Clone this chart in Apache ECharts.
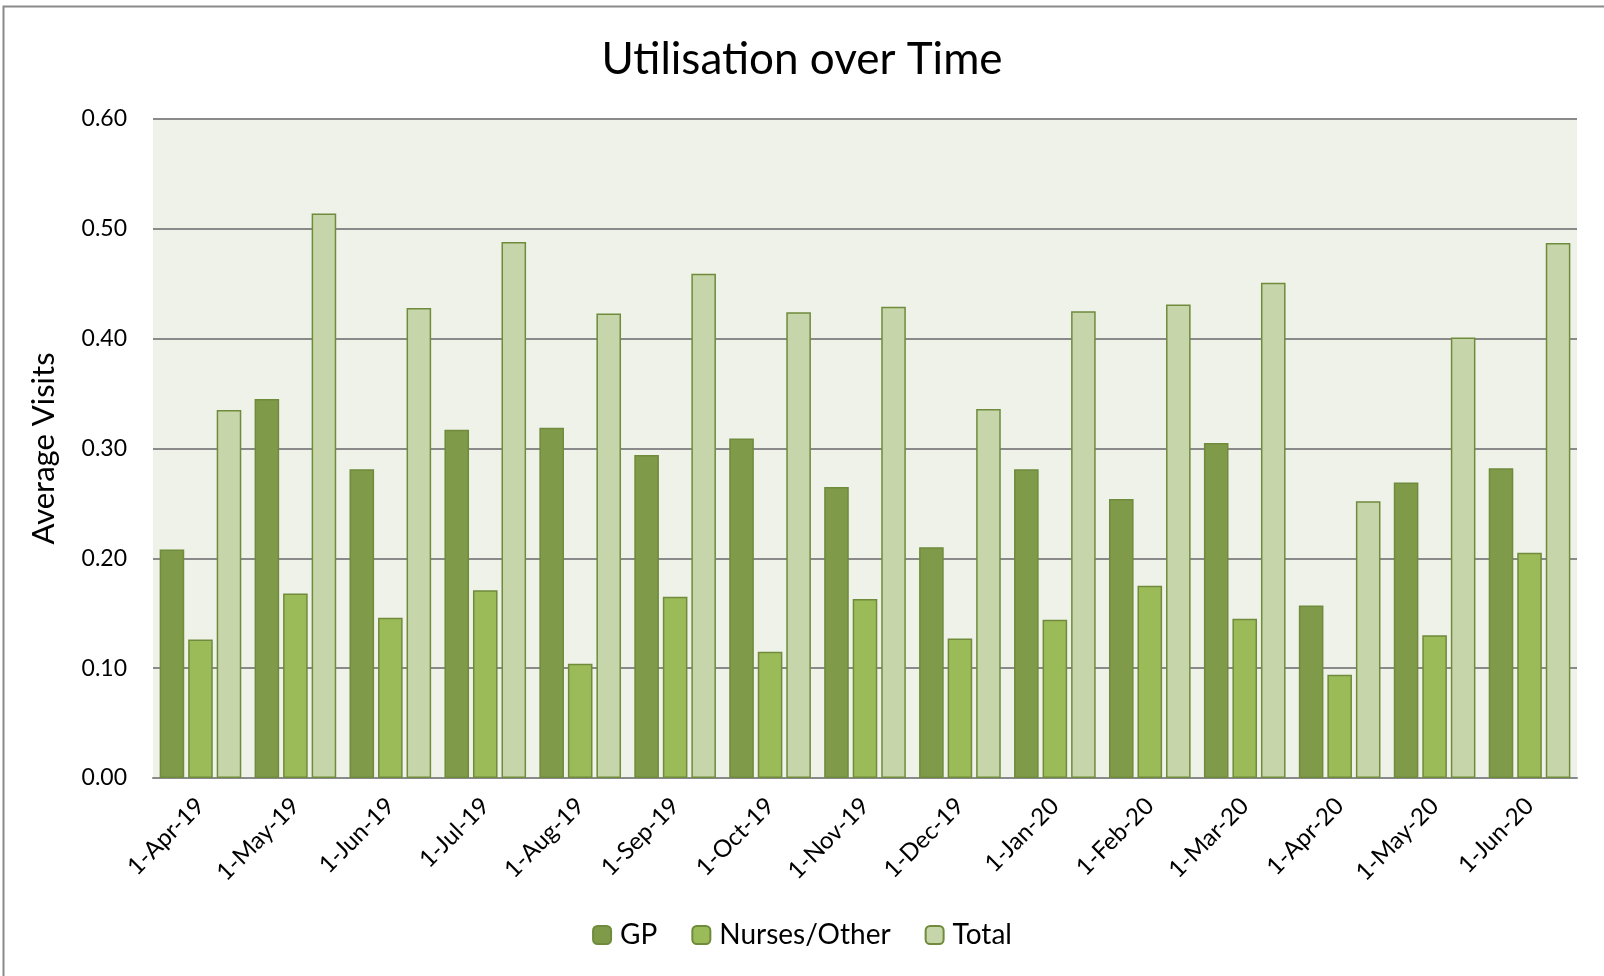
<!DOCTYPE html>
<html lang="en">
<head>
    <meta charset="UTF-8">
    <title>Utilisation over Time</title>
    <style>
        html, body { margin: 0; padding: 0; background: #fff; }
    </style>
</head>
<body>
<div id="main" style="width: 1604px;height: 976px;"></div>
<script src="https://cdn.jsdelivr.net/npm/echarts@6/dist/echarts.min.js"></script>
<script type="text/javascript">
    // months on the x axis
    var months = ['1-Apr-19', '1-May-19', '1-Jun-19', '1-Jul-19', '1-Aug-19', '1-Sep-19', '1-Oct-19',
        '1-Nov-19', '1-Dec-19', '1-Jan-20', '1-Feb-20', '1-Mar-20', '1-Apr-20', '1-May-20', '1-Jun-20'];
    var gp     = [0.208, 0.345, 0.281, 0.317, 0.319, 0.294, 0.309, 0.265, 0.210, 0.281, 0.254, 0.305, 0.157, 0.269, 0.282];
    var nurses = [0.126, 0.168, 0.146, 0.171, 0.104, 0.165, 0.115, 0.163, 0.127, 0.144, 0.175, 0.145, 0.094, 0.130, 0.205];
    var total  = [0.335, 0.514, 0.428, 0.488, 0.423, 0.459, 0.424, 0.429, 0.336, 0.425, 0.431, 0.451, 0.252, 0.401, 0.487];

    var font = 'Lato, "Noto Sans", sans-serif';
    var edge = '#6f8b3b';

    let myChart = echarts.init(document.getElementById('main'));
    const option = {
        backgroundColor: '#fff',
        animation: false,
        textStyle: {fontFamily: font, color: '#000'},
        title: {
            text: 'Utilisation over Time',
            left: 'center',
            top: 33,
            textStyle: {fontSize: 44, fontWeight: 'normal', color: '#000', fontFamily: font}
        },
        graphic: [{
            type: 'rect',
            shape: {x: 3.5, y: 6.5, width: 1700, height: 1100},
            style: {fill: 'none', stroke: '#8a8a8a', lineWidth: 2},
            silent: true
        }],
        legend: {
            bottom: 22,
            left: 'center',
            itemWidth: 18,
            itemHeight: 18,
            itemGap: 34,
            textStyle: {fontSize: 28, color: '#000', fontFamily: font, padding: [0, 0, 0, 4]},
            data: ['GP', 'Nurses/Other', 'Total']
        },
        grid: {
            left: 153,
            right: 27,
            top: 119,
            bottom: 198,
            show: true,
            backgroundColor: '#eff2e8',
            borderWidth: 0
        },
        xAxis: {
            type: 'category',
            data: months,
            axisTick: {show: false},
            axisLine: {lineStyle: {color: '#8a8a8a', width: 2}},
            axisLabel: {
                rotate: 45,
                fontSize: 24,
                color: '#000',
                margin: 24,
                interval: 0,
                fontFamily: font
            }
        },
        yAxis: {
            type: 'value',
            min: 0,
            max: 0.6,
            interval: 0.1,
            name: 'Average Visits',
            nameLocation: 'middle',
            nameGap: 94,
            nameTextStyle: {fontSize: 31, color: '#000', fontFamily: font},
            axisLine: {show: false},
            axisTick: {show: false},
            axisLabel: {
                fontSize: 23,
                color: '#000',
                margin: 26,
                fontFamily: font,
                formatter: function (v) { return v.toFixed(2); }
            },
            splitLine: {lineStyle: {color: '#8a8a8a', width: 2}}
        },
        series: [
            {
                name: 'GP',
                type: 'bar',
                barGap: '16%',
                barCategoryGap: '14%',
                itemStyle: {color: '#7f9a48', borderColor: edge, borderWidth: 1.5},
                data: gp
            },
            {
                name: 'Nurses/Other',
                type: 'bar',
                itemStyle: {color: '#9bbb59', borderColor: edge, borderWidth: 1.5},
                data: nurses
            },
            {
                name: 'Total',
                type: 'bar',
                itemStyle: {color: '#c6d6aa', borderColor: edge, borderWidth: 1.5},
                data: total
            }
        ]
    };
    myChart.setOption(option);
</script>
</body>
</html>
